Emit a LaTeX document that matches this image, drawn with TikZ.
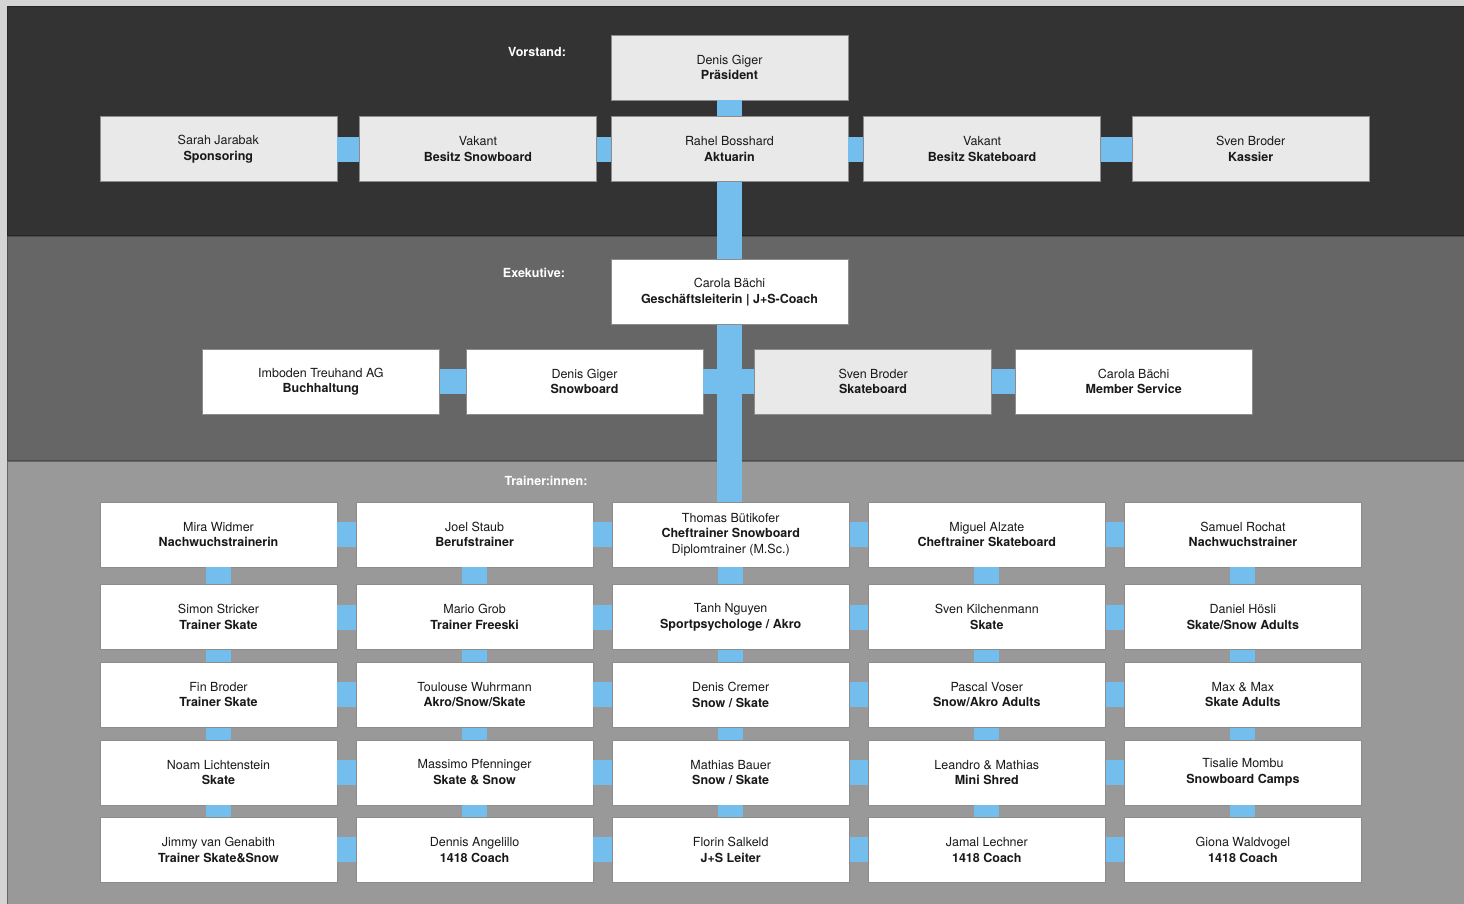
\documentclass[tikz,border=0pt]{standalone}
\usepackage{fontspec}
\setmainfont{TeX Gyre Heros}
\usepackage{tikz}
\usetikzlibrary{shapes,backgrounds,positioning}

\definecolor{linkblue}{RGB}{116,190,238}
\definecolor{boxgray}{RGB}{233,233,233}
\definecolor{bandtop}{RGB}{51,51,51}
\definecolor{bandmid}{RGB}{102,102,102}
\definecolor{bandlow}{RGB}{153,153,153}
\definecolor{pageframe}{RGB}{212,212,212}

\begin{document}
\begin{tikzpicture}[x=1pt,y=-1pt,node distance=12pt and 18.5pt]
  \tikzstyle{person}=[rectangle,align=center,minimum width=237pt,minimum height=65pt,inner sep=0pt,fill=white,draw=black!45,line width=0.6pt,text=black!90,font=\fontsize{12.5}{15.5}\selectfont]
  \tikzstyle{board}=[person,fill=boxgray]
  \tikzstyle{heading}=[text=white,font=\fontsize{12.5}{15}\selectfont\bfseries]
  \tikzstyle{link}=[line width=25pt,draw=linkblue]

  \useasboundingbox (0,0) rectangle (1464,904);

  % Vorstand.
  \node [heading] (hvor) at (537,52) {Vorstand:};
  \node [board] (praes) at (729.5,67.5) {Denis Giger\\\textbf{Präsident}};
  \node [board] (aktuar) [below=16pt of praes] {Rahel Bosshard\\\textbf{Aktuarin}};
  \node [board] (bsnow) [left=14pt of aktuar] {Vakant\\\textbf{Besitz Snowboard}};
  \node [board] (spons) [left=22pt of bsnow] {Sarah Jarabak\\\textbf{Sponsoring}};
  \node [board] (bskate) [right=15pt of aktuar] {Vakant\\\textbf{Besitz Skateboard}};
  \node [board] (kassier) [right=31pt of bskate] {Sven Broder\\\textbf{Kassier}};

  % Exekutive.
  \node [heading] (hexe) at (534,273) {Exekutive:};
  \node [person] (gl) at (729.5,292) {Carola Bächi\\\textbf{Geschäftsleiterin | J+S-Coach}};
  \node [person] (snowb) at (584.5,381.5) {Denis Giger\\\textbf{Snowboard}};
  \node [person] (buch) [left=26pt of snowb] {Imboden Treuhand AG\\\textbf{Buchhaltung}};
  \node [board] (skateb) [right=51pt of snowb] {Sven Broder\\\textbf{Skateboard}};
  \node [person] (member) [right=23pt of skateb] {Carola Bächi\\\textbf{Member Service}};

  % Trainer:innen, first row.
  \node [heading] (htrain) at (546,481) {Trainer:innen:};
  \node [person] (t11) at (218.5,534.5) {Mira Widmer\\\textbf{Nachwuchstrainerin}};
  \node [person] (t12) [right=of t11] {Joel Staub\\\textbf{Berufstrainer}};
  \node [person] (t13) [right=of t12] {Thomas Bütikofer\\\textbf{Cheftrainer Snowboard}\\Diplomtrainer (M.Sc.)};
  \node [person] (t14) [right=of t13] {Miguel Alzate\\\textbf{Cheftrainer Skateboard}};
  \node [person] (t15) [right=of t14] {Samuel Rochat\\\textbf{Nachwuchstrainer}};

  % Second row.
  \node [person] (t21) [below=17pt of t11] {Simon Stricker\\\textbf{Trainer Skate}};
  \node [person] (t22) [right=of t21] {Mario Grob\\\textbf{Trainer Freeski}};
  \node [person] (t23) [right=of t22] {Tanh Nguyen\\\textbf{Sportpsychologe / Akro}};
  \node [person] (t24) [right=of t23] {Sven Kilchenmann\\\textbf{Skate}};
  \node [person] (t25) [right=of t24] {Daniel Hösli\\\textbf{Skate/Snow Adults}};

  % Third row.
  \node [person] (t31) [below=of t21] {Fin Broder\\\textbf{Trainer Skate}};
  \node [person] (t32) [right=of t31] {Toulouse Wuhrmann\\\textbf{Akro/Snow/Skate}};
  \node [person] (t33) [right=of t32] {Denis Cremer\\\textbf{Snow / Skate}};
  \node [person] (t34) [right=of t33] {Pascal Voser\\\textbf{Snow/Akro Adults}};
  \node [person] (t35) [right=of t34] {Max \& Max\\\textbf{Skate Adults}};

  % Fourth row.
  \node [person] (t41) [below=of t31] {Noam Lichtenstein\\\textbf{Skate}};
  \node [person] (t42) [right=of t41] {Massimo Pfenninger\\\textbf{Skate \& Snow}};
  \node [person] (t43) [right=of t42] {Mathias Bauer\\\textbf{Snow / Skate}};
  \node [person] (t44) [right=of t43] {Leandro \& Mathias\\\textbf{Mini Shred}};
  \node [person] (t45) [right=of t44] {Tisalie Mombu\\\textbf{Snowboard Camps}};

  % Fifth row.
  \node [person] (t51) [below=of t41] {Jimmy van Genabith\\\textbf{Trainer Skate\&Snow}};
  \node [person] (t52) [right=of t51] {Dennis Angelillo\\\textbf{1418 Coach}};
  \node [person] (t53) [right=of t52] {Florin Salkeld\\\textbf{J+S Leiter}};
  \node [person] (t54) [right=of t53] {Jamal Lechner\\\textbf{1418 Coach}};
  \node [person] (t55) [right=of t54] {Giona Waldvogel\\\textbf{1418 Coach}};

  % Connectors.
  \path [link] (praes.south) edge (aktuar.north)
    (spons.east) edge (bsnow.west) (bsnow.east) edge (aktuar.west)
    (aktuar.east) edge (bskate.west) (bskate.east) edge (kassier.west);
  \path [link] (aktuar.south) edge (gl.north)
    (gl.south) edge (gl.south |- t13.north);
  \path [link] (buch.east) edge (snowb.west) (snowb.east) edge (skateb.west)
    (skateb.east) edge (member.west);

  \path [link] (t11.east) edge (t12.west) (t12.east) edge (t13.west) (t13.east) edge (t14.west) (t14.east) edge (t15.west);
  \path [link] (t21.east) edge (t22.west) (t22.east) edge (t23.west) (t23.east) edge (t24.west) (t24.east) edge (t25.west);
  \path [link] (t31.east) edge (t32.west) (t32.east) edge (t33.west) (t33.east) edge (t34.west) (t34.east) edge (t35.west);
  \path [link] (t41.east) edge (t42.west) (t42.east) edge (t43.west) (t43.east) edge (t44.west) (t44.east) edge (t45.west);
  \path [link] (t51.east) edge (t52.west) (t52.east) edge (t53.west) (t53.east) edge (t54.west) (t54.east) edge (t55.west);

  \path [link] (t11.south) edge (t21.north) (t21.south) edge (t31.north) (t31.south) edge (t41.north) (t41.south) edge (t51.north);
  \path [link] (t12.south) edge (t22.north) (t22.south) edge (t32.north) (t32.south) edge (t42.north) (t42.south) edge (t52.north);
  \path [link] (t13.south) edge (t23.north) (t23.south) edge (t33.north) (t33.south) edge (t43.north) (t43.south) edge (t53.north);
  \path [link] (t14.south) edge (t24.north) (t24.south) edge (t34.north) (t34.south) edge (t44.north) (t44.south) edge (t54.north);
  \path [link] (t15.south) edge (t25.north) (t25.south) edge (t35.north) (t35.south) edge (t45.north) (t45.south) edge (t55.north);

  \begin{pgfonlayer}{background}
  \fill [pageframe] (0,0) rectangle (1464,904);
  \filldraw [fill=bandtop,draw=black!85,line width=1pt] (7,7) rectangle (1470,235);
  \filldraw [fill=bandmid,draw=black!70,line width=1pt] (7,236) rectangle (1470,460);
  \filldraw [fill=bandlow,draw=black!60,line width=1pt] (7,461) rectangle (1470,910);
  \end{pgfonlayer}
\end{tikzpicture}
\end{document}
